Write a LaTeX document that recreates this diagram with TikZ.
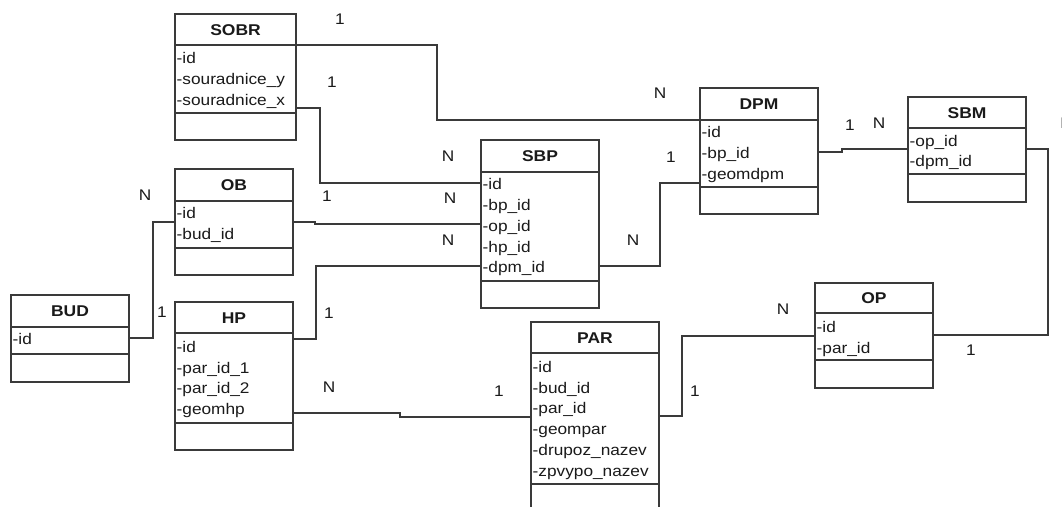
\documentclass[tikz,border=0pt]{standalone}
\usepackage{fontspec}
\setmainfont{Liberation Sans}[FakeStretch=1.12]
\definecolor{ln}{HTML}{3A3A3A}
\definecolor{tx}{HTML}{1A1A1A}
\tikzset{
  tbox/.style={draw=ln, line width=1.2pt, fill=white, inner sep=0pt, outer sep=0pt},
  sepline/.style={draw=ln, line width=1.2pt},
  conn/.style={draw=ln, line width=1.2pt},
  ttl/.style={anchor=base, inner sep=0pt, text=tx, font=\fontsize{15.6}{18}\selectfont\bfseries},
  attr/.style={anchor=base west, inner sep=0pt, text=tx, font=\fontsize{15.4}{18}\selectfont},
  card/.style={anchor=base, inner sep=0pt, text=tx, font=\fontsize{15.4}{18}\selectfont},
}
% name, L, T, R, H, A, B, title
\newcommand\umltab[8]{%
  \node[tbox, anchor=north west, minimum width={(#4-#2)*1pt}, minimum height={(#7-#3)*1pt}] (#1) at (#2,#3) {};
  \draw[sepline] (#1.west |- 0,#5) -- (#1.east |- 0,#5);
  \draw[sepline] (#1.west |- 0,#6) -- (#1.east |- 0,#6);
  \node[ttl] (#1-t) at ({(#2+#4)/2},{(#3+#5)/2+5.5}) {#8};
}
\newcommand\attrib[4]{\node[attr] (#1) at (#2,{#3+5.5}) {#4};}
\newcommand\cardl[4]{\node[card] (#1) at (#2,{#3+5.5}) {#4};}
\begin{document}
\begin{tikzpicture}[x=1pt,y=-1pt]
\useasboundingbox[fill=white] (0,0) rectangle (1062,506);

% tables
\umltab{sobr}{175}{14}{296}{45}{113}{140}{SOBR}
\attrib{sobr-1}{176.5}{58}{-id}
\attrib{sobr-2}{176.5}{79}{-souradnice\_y}
\attrib{sobr-3}{176.5}{99.5}{-souradnice\_x}

\umltab{ob}{175}{169}{293}{201}{248}{275}{OB}
\attrib{ob-1}{176.5}{213}{-id}
\attrib{ob-2}{176.5}{234}{-bud\_id}

\umltab{bud}{11}{295}{129}{327}{354}{382}{BUD}
\attrib{bud-1}{12.5}{339}{-id}

\umltab{hp}{175}{302}{293}{333}{423}{450}{HP}
\attrib{hp-1}{176.5}{347}{-id}
\attrib{hp-2}{176.5}{367.5}{-par\_id\_1}
\attrib{hp-3}{176.5}{388}{-par\_id\_2}
\attrib{hp-4}{176.5}{408.5}{-geomhp}

\umltab{sbp}{481}{140}{599}{172}{281}{308}{SBP}
\attrib{sbp-1}{482.5}{184}{-id}
\attrib{sbp-2}{482.5}{205}{-bp\_id}
\attrib{sbp-3}{482.5}{226}{-op\_id}
\attrib{sbp-4}{482.5}{247}{-hp\_id}
\attrib{sbp-5}{482.5}{267}{-dpm\_id}

\umltab{dpm}{700}{88}{818}{120}{187}{214}{DPM}
\attrib{dpm-1}{701.5}{132}{-id}
\attrib{dpm-2}{701.5}{153}{-bp\_id}
\attrib{dpm-3}{701.5}{174}{-geomdpm}

\umltab{sbm}{908}{97}{1026}{128}{174}{202}{SBM}
\attrib{sbm-1}{909.5}{141}{-op\_id}
\attrib{sbm-2}{909.5}{161}{-dpm\_id}

\umltab{op}{815}{283}{933}{313}{360}{388}{OP}
\attrib{op-1}{816.5}{327}{-id}
\attrib{op-2}{816.5}{348}{-par\_id}

\umltab{par}{531}{322}{659}{353}{484}{515}{PAR}
\attrib{par-1}{532.5}{367}{-id}
\attrib{par-2}{532.5}{388}{-bud\_id}
\attrib{par-3}{532.5}{408}{-par\_id}
\attrib{par-4}{532.5}{429}{-geompar}
\attrib{par-5}{532.5}{450}{-drupoz\_nazev}
\attrib{par-6}{532.5}{471}{-zpvypo\_nazev}

% connectors between tables
\draw[conn] (sobr.east |- 0,45) -- (437,45) -- (437,120) -- (dpm.west |- 0,120);
\draw[conn] (sobr.east |- 0,108) -- (320,108) -- (320,183) -- (sbp.west |- 0,183);
\draw[conn] (ob.east |- 0,222) -- (315,222) -- (315,224) -- (sbp.west |- 0,224);
\draw[conn] (bud.east |- 0,338) -- (153,338) -- (153,222) -- (ob.west |- 0,222);
\draw[conn] (hp.east |- 0,339) -- (316,339) -- (316,266) -- (sbp.west |- 0,266);
\draw[conn] (hp.east |- 0,413) -- (400,413) -- (400,417) -- (par.west |- 0,417);
\draw[conn] (par.east |- 0,416) -- (682,416) -- (682,336) -- (op.west |- 0,336);
\draw[conn] (sbp.east |- 0,266) -- (660,266) -- (660,183) -- (dpm.west |- 0,183);
\draw[conn] (dpm.east |- 0,152) -- (842,152) -- (842,149) -- (sbm.west |- 0,149);
\draw[conn] (sbm.east |- 0,149) -- (1048,149) -- (1048,335) -- (op.east |- 0,335);

% cardinalities
\cardl{c1}{340}{19}{1}
\cardl{c2}{332}{82}{1}
\cardl{c3}{660}{93}{N}
\cardl{c4}{448}{156}{N}
\cardl{c5}{327}{196}{1}
\cardl{c6}{450}{198}{N}
\cardl{c7}{448}{240}{N}
\cardl{c8}{671}{157}{1}
\cardl{c9}{633}{240}{N}
\cardl{c10}{850}{125}{1}
\cardl{c11}{879}{123}{N}
\cardl{c12}{1066.5}{123}{N}
\cardl{c13}{145}{195}{N}
\cardl{c14}{162}{312}{1}
\cardl{c15}{329}{313}{1}
\cardl{c16}{329}{387}{N}
\cardl{c17}{499}{391}{1}
\cardl{c18}{695}{391}{1}
\cardl{c19}{783}{309}{N}
\cardl{c20}{971}{350}{1}
\end{tikzpicture}
\end{document}
